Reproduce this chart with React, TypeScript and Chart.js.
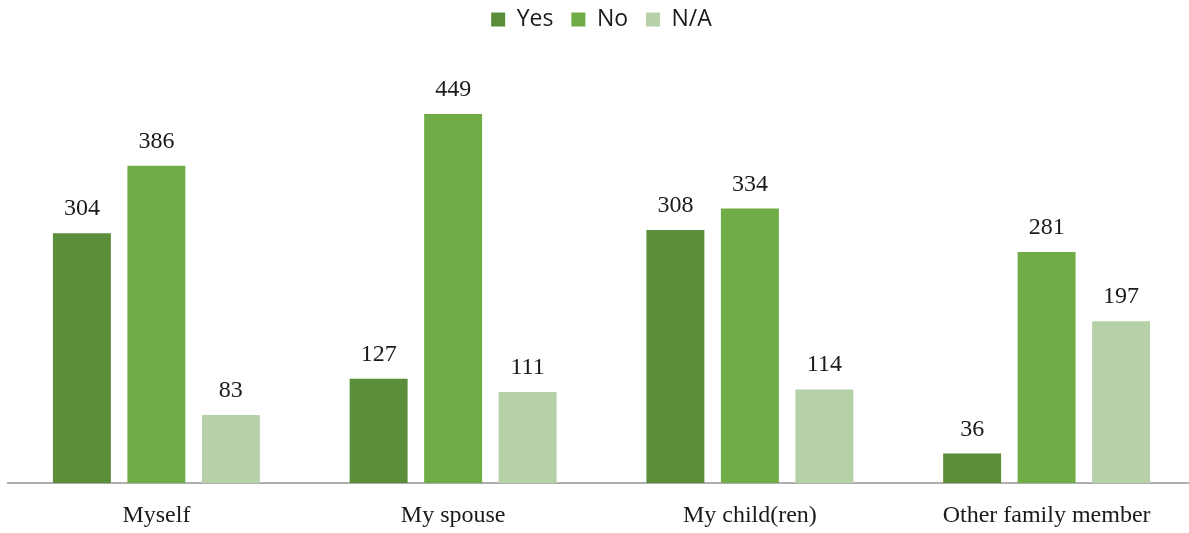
import React, { useEffect, useRef } from "react";
import { Chart, registerables } from "chart.js";

Chart.register(...registerables);

const categories = ["Myself", "My spouse", "My child(ren)", "Other family member"];
const seriesNames = ["Yes", "No", "N/A"];
const yesValues = [304, 127, 308, 36];
const noValues = [386, 449, 334, 281];
const naValues = [83, 111, 114, 197];
const seriesColors = ["#5B8E3A", "#70AD47", "#B6D0A8"];

const dataLabelPlugin = {
  id: "dataLabels",
  afterDatasetsDraw(chart: any) {
    const ctx = chart.ctx;
    ctx.save();
    ctx.font = "24px 'Liberation Serif', serif";
    ctx.fillStyle = "#1a1a1a";
    ctx.textAlign = "center";
    ctx.textBaseline = "alphabetic";
    chart.data.datasets.forEach((ds: any, i: number) => {
      const meta = chart.getDatasetMeta(i);
      meta.data.forEach((bar: any, j: number) => {
        ctx.fillText(String(ds.data[j]), bar.x, bar.y - 18);
      });
    });
    ctx.restore();
  },
};

const legendSpacePlugin = {
  id: "legendSpace",
  beforeInit(chart: any) {
    const legend = chart.legend;
    if (!legend) return;
    const orig = legend.fit;
    legend.fit = function () {
      orig.call(this);
      this.height += 31;
    };
  },
};

export default function App() {
  const ref = useRef<HTMLCanvasElement>(null);
  useEffect(() => {
    if (!ref.current) return;
    const values = [yesValues, noValues, naValues];
    const chart = new Chart(ref.current, {
      type: "bar",
      data: {
        labels: categories,
        datasets: seriesNames.map((name, i) => ({
          label: name,
          data: values[i],
          backgroundColor: seriesColors[i],
          borderWidth: 0,
          categoryPercentage: 0.753,
          barPercentage: 0.778,
        })),
      },
      options: {
        animation: false,
        responsive: false,
        maintainAspectRatio: false,
        layout: { padding: { left: 8, right: 5, top: -10, bottom: 6 } },
        plugins: {
          legend: {
            position: "top",
            labels: {
              boxWidth: 14,
              boxHeight: 14,
              padding: 18,
              color: "#1a1a1a",
              font: { family: "'Open Sans', sans-serif", size: 23 },
            },
          },
          tooltip: { enabled: false },
        },
        scales: {
          x: {
            grid: { display: false, drawTicks: false },
            border: { display: true, color: "#AFAFAF", width: 2 },
            ticks: {
              color: "#1a1a1a",
              padding: 18,
              font: { family: "'Liberation Serif', serif", size: 24 },
            },
          },
          y: {
            display: false,
            min: 0,
            max: 500,
          },
        },
      },
      plugins: [dataLabelPlugin, legendSpacePlugin],
    });
    return () => chart.destroy();
  }, []);
  return (
    <div style={{ position: "fixed", left: 0, top: 0, width: 1200, height: 554, background: "#fff" }}>
      <canvas ref={ref} width={1200} height={554} style={{ width: 1200, height: 554, display: "block" }} />
    </div>
  );
}
